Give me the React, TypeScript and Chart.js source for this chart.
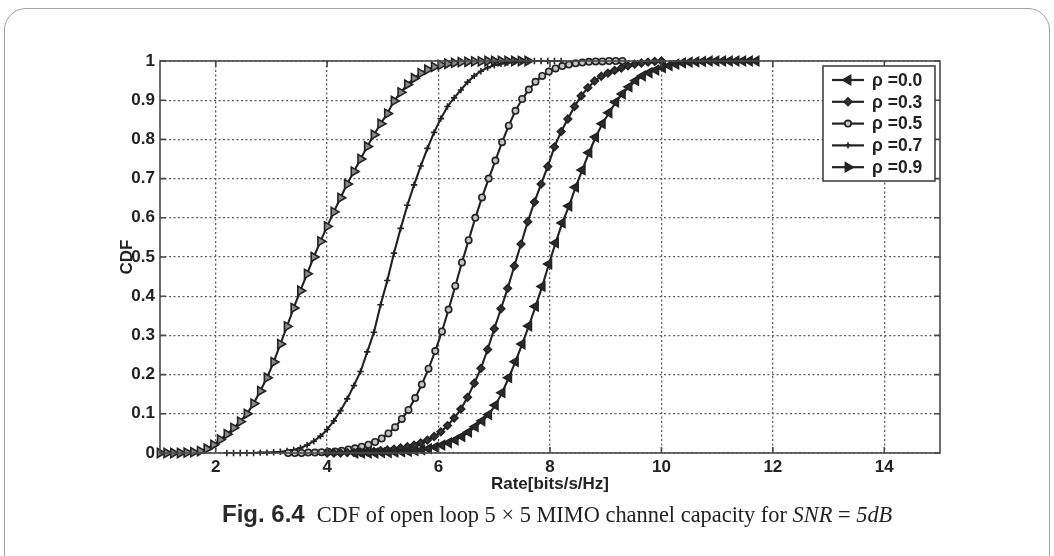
import React, { useEffect, useRef } from "react";
import { Chart, registerables, PointElement } from "chart.js";

Chart.register(...registerables);

// ---------------- data ----------------
const seriesLabels = ["ρ =0.0", "ρ =0.3", "ρ =0.5", "ρ =0.7", "ρ =0.9"];
const xTickValues = [2, 4, 6, 8, 10, 12, 14];
const xAxisTitle = "Rate[bits/s/Hz]";
const yAxisTitle = "CDF";

const rho00X = [4.5, 4.62, 4.74, 4.86, 4.98, 5.1, 5.22, 5.34, 5.46, 5.58, 5.7, 5.82, 5.94, 6.06, 6.18, 6.3, 6.42, 6.54, 6.66, 6.78, 6.9, 7.02, 7.14, 7.26, 7.38, 7.5, 7.62, 7.74, 7.86, 7.98, 8.1, 8.22, 8.34, 8.46, 8.58, 8.7, 8.82, 8.94, 9.06, 9.18, 9.3, 9.42, 9.54, 9.66, 9.78, 9.9, 10.02, 10.14, 10.26, 10.38, 10.5, 10.62, 10.74, 10.86, 10.98, 11.1, 11.22, 11.34, 11.46, 11.58, 11.7];
const rho00Y = [0, 0, 0, 0, 0.001, 0.001, 0.002, 0.003, 0.004, 0.006, 0.008, 0.011, 0.015, 0.02, 0.026, 0.033, 0.042, 0.053, 0.067, 0.082, 0.098, 0.122, 0.154, 0.192, 0.233, 0.278, 0.324, 0.374, 0.425, 0.482, 0.536, 0.587, 0.63, 0.678, 0.722, 0.766, 0.806, 0.84, 0.868, 0.895, 0.916, 0.934, 0.95, 0.962, 0.97, 0.977, 0.983, 0.988, 0.992, 0.995, 0.997, 0.998, 0.999, 1, 1, 1, 1, 1, 1, 1, 1];

const rho03X = [4.0, 4.12, 4.24, 4.36, 4.48, 4.6, 4.72, 4.84, 4.96, 5.08, 5.2, 5.32, 5.44, 5.56, 5.68, 5.8, 5.92, 6.04, 6.16, 6.28, 6.4, 6.52, 6.64, 6.76, 6.88, 7.0, 7.12, 7.24, 7.36, 7.48, 7.6, 7.72, 7.84, 7.96, 8.08, 8.2, 8.32, 8.44, 8.56, 8.68, 8.8, 8.92, 9.04, 9.16, 9.28, 9.4, 9.52, 9.64, 9.76, 9.88, 10.0];
const rho03Y = [0, 0, 0, 0.001, 0.001, 0.002, 0.003, 0.004, 0.006, 0.008, 0.01, 0.013, 0.016, 0.02, 0.026, 0.033, 0.042, 0.054, 0.07, 0.089, 0.112, 0.142, 0.178, 0.216, 0.264, 0.317, 0.368, 0.42, 0.477, 0.533, 0.59, 0.64, 0.686, 0.731, 0.781, 0.82, 0.852, 0.884, 0.911, 0.932, 0.949, 0.961, 0.969, 0.976, 0.982, 0.988, 0.992, 0.995, 0.997, 0.999, 1];

const rho05X = [3.3, 3.42, 3.54, 3.66, 3.78, 3.9, 4.02, 4.14, 4.26, 4.38, 4.5, 4.62, 4.74, 4.86, 4.98, 5.1, 5.22, 5.34, 5.46, 5.58, 5.7, 5.82, 5.94, 6.06, 6.18, 6.3, 6.42, 6.54, 6.66, 6.78, 6.9, 7.02, 7.14, 7.26, 7.38, 7.5, 7.62, 7.74, 7.86, 7.98, 8.1, 8.22, 8.34, 8.46, 8.58, 8.7, 8.82, 8.94, 9.06, 9.18, 9.3];
const rho05Y = [0, 0, 0, 0.001, 0.001, 0.002, 0.003, 0.004, 0.006, 0.009, 0.012, 0.016, 0.021, 0.028, 0.037, 0.05, 0.066, 0.087, 0.11, 0.14, 0.175, 0.215, 0.26, 0.31, 0.366, 0.426, 0.486, 0.543, 0.6, 0.652, 0.7, 0.746, 0.793, 0.835, 0.873, 0.903, 0.927, 0.947, 0.962, 0.973, 0.981, 0.987, 0.991, 0.994, 0.996, 0.998, 0.999, 0.999, 1, 1, 1];

const rho07X = [2.2, 2.32, 2.44, 2.56, 2.68, 2.8, 2.92, 3.04, 3.16, 3.28, 3.4, 3.52, 3.64, 3.76, 3.88, 4.0, 4.12, 4.24, 4.36, 4.48, 4.6, 4.72, 4.84, 4.96, 5.08, 5.2, 5.32, 5.44, 5.56, 5.68, 5.8, 5.92, 6.04, 6.16, 6.28, 6.4, 6.52, 6.64, 6.76, 6.88, 7.0, 7.12, 7.24, 7.36, 7.48, 7.6, 7.72, 7.84, 7.96, 8.08, 8.2];
const rho07Y = [0, 0, 0, 0, 0, 0.001, 0.001, 0.002, 0.003, 0.005, 0.008, 0.013, 0.02, 0.03, 0.043, 0.06, 0.082, 0.108, 0.138, 0.172, 0.208, 0.258, 0.308, 0.378, 0.44, 0.51, 0.573, 0.632, 0.684, 0.732, 0.777, 0.818, 0.853, 0.884, 0.906, 0.926, 0.946, 0.962, 0.974, 0.983, 0.989, 0.993, 0.996, 0.998, 0.999, 0.999, 1, 1, 1, 1, 1];

const rho09X = [1.0, 1.12, 1.24, 1.36, 1.48, 1.6, 1.72, 1.84, 1.96, 2.08, 2.2, 2.32, 2.44, 2.56, 2.68, 2.8, 2.92, 3.04, 3.16, 3.28, 3.4, 3.52, 3.64, 3.76, 3.88, 4.0, 4.12, 4.24, 4.36, 4.48, 4.6, 4.72, 4.84, 4.96, 5.08, 5.2, 5.32, 5.44, 5.56, 5.68, 5.8, 5.92, 6.04, 6.16, 6.28, 6.4, 6.52, 6.64, 6.76, 6.88, 7.0, 7.12, 7.24, 7.36, 7.48, 7.6];
const rho09Y = [0, 0, 0, 0, 0.001, 0.002, 0.005, 0.011, 0.021, 0.034, 0.048, 0.064, 0.08, 0.1, 0.126, 0.158, 0.192, 0.232, 0.278, 0.323, 0.37, 0.414, 0.457, 0.5, 0.54, 0.578, 0.615, 0.651, 0.686, 0.718, 0.75, 0.782, 0.812, 0.84, 0.866, 0.898, 0.92, 0.94, 0.956, 0.969, 0.978, 0.985, 0.99, 0.993, 0.995, 0.997, 0.998, 0.999, 0.999, 1, 1, 1, 1, 1, 1, 1];

// ---------------- styles ----------------
const INK = "#222222";
const FONT = '"Liberation Sans", Arial, Helvetica, sans-serif';
const markerStyles = [
  { pointStyle: "triangle", rotation: -90, radius: 5.2, fill: "#2a2a2a" },
  { pointStyle: "rectRot", rotation: 0, radius: 3.8, fill: "#333333" },
  { pointStyle: "circle", rotation: 0, radius: 3.2, fill: "#c4c4c4" },
  { pointStyle: "cross", rotation: 0, radius: 3.2, fill: "#2a2a2a" },
  { pointStyle: "triangle", rotation: 90, radius: 5.2, fill: "#8a8a8a" },
];

const framePlugin = {
  id: "matlabFrame",
  afterDatasetsDraw(chart: any) {
    const { ctx, chartArea: a, scales } = chart;
    ctx.save();
    ctx.strokeStyle = "#4a4a4a";
    ctx.lineWidth = 1.6;
    ctx.setLineDash([]);
    ctx.strokeRect(a.left, a.top, a.right - a.left, a.bottom - a.top);
    ctx.beginPath();
    for (const v of xTickValues) {
      const px = scales.x.getPixelForValue(v);
      ctx.moveTo(px, a.bottom);
      ctx.lineTo(px, a.bottom - 6);
      ctx.moveTo(px, a.top);
      ctx.lineTo(px, a.top + 6);
    }
    for (const t of scales.y.ticks) {
      const py = scales.y.getPixelForValue(t.value);
      ctx.moveTo(a.left, py);
      ctx.lineTo(a.left + 6, py);
      ctx.moveTo(a.right, py);
      ctx.lineTo(a.right - 6, py);
    }
    ctx.stroke();
    ctx.restore();
  },
};

const legendPlugin = {
  id: "matlabLegend",
  afterDraw(chart: any) {
    const { ctx, chartArea: a } = chart;
    const w = 112;
    const h = 115;
    const left = a.right - 5 - w;
    const top = a.top + 5;
    ctx.save();
    ctx.fillStyle = "#ffffff";
    ctx.fillRect(left, top, w, h);
    ctx.strokeStyle = "#444";
    ctx.lineWidth = 1.6;
    ctx.strokeRect(left, top, w, h);
    chart.data.datasets.forEach((ds: any, i: number) => {
      const cy = top + 14 + i * 21.8;
      ctx.strokeStyle = INK;
      ctx.lineWidth = 2.2;
      ctx.beginPath();
      ctx.moveTo(left + 9, cy);
      ctx.lineTo(left + 41, cy);
      ctx.stroke();
      const el: any = new PointElement({});
      el.x = left + 25;
      el.y = cy;
      el.options = {
        pointStyle: ds.pointStyle,
        rotation: ds.pointRotation,
        radius: ds.pointRadius,
        borderWidth: ds.pointBorderWidth,
        borderColor: INK,
        backgroundColor: ds.pointStyle === "triangle" ? INK : ds.pointBackgroundColor,
      };
      el.draw(ctx);
      ctx.fillStyle = INK;
      ctx.font = `bold 17.5px ${FONT}`;
      ctx.textAlign = "left";
      ctx.textBaseline = "middle";
      ctx.fillText(ds.label, left + 49, cy + 1);
    });
    ctx.restore();
  },
};

export default function App() {
  const ref = useRef<HTMLCanvasElement>(null);

  useEffect(() => {
    const canvas = ref.current;
    if (!canvas) return;
    const xs = [rho00X, rho03X, rho05X, rho07X, rho09X];
    const ys = [rho00Y, rho03Y, rho05Y, rho07Y, rho09Y];
    const datasets = seriesLabels.map((label, i) => {
      const st = markerStyles[i];
      return {
        label,
        data: xs[i].map((x, j) => ({ x, y: ys[i][j] })),
        borderColor: INK,
        borderWidth: 2.1,
        backgroundColor: st.fill,
        pointStyle: st.pointStyle,
        pointRotation: st.rotation,
        pointRadius: st.radius,
        pointBorderWidth: 1.6,
        pointBorderColor: INK,
        pointBackgroundColor: st.fill,
        tension: 0,
        clip: false,
      };
    });

    const chart = new Chart(canvas, {
      type: "line",
      data: { datasets },
      options: {
        animation: false,
        responsive: false,
        maintainAspectRatio: false,
        events: [],
        layout: { padding: { left: 114, right: 114, top: 61, bottom: 58 } },
        plugins: { legend: { display: false }, tooltip: { enabled: false } },
        font: { family: FONT },
        scales: {
          x: {
            type: "linear",
            min: 1,
            max: 15,
            afterBuildTicks: (scale: any) => {
              scale.ticks = xTickValues.map((v) => ({ value: v }));
            },
            afterFit: (scale: any) => {
              scale.height = 45;
            },
            ticks: {
              color: INK,
              padding: 4,
              font: { family: FONT, size: 17, weight: "bold" },
              callback: (v: any) => String(v),
              maxRotation: 0,
            },
            grid: { color: "#5e5e5e", lineWidth: 1.3, drawTicks: false },
            border: { display: false, dash: [2, 2.5] },
            title: {
              display: true,
              text: xAxisTitle,
              color: INK,
              font: { family: FONT, size: 17, weight: "bold" },
              padding: { top: 4, bottom: 3 },
            },
          },
          y: {
            type: "linear",
            min: 0,
            max: 1,
            afterFit: (scale: any) => {
              scale.width = 46;
            },
            ticks: {
              stepSize: 0.1,
              color: INK,
              padding: 5,
              font: { family: FONT, size: 17, weight: "bold" },
              callback: (v: any) => String(Math.round(Number(v) * 10) / 10),
            },
            grid: { color: "#5e5e5e", lineWidth: 1.3, drawTicks: false },
            border: { display: false, dash: [2, 2.5] },
            title: {
              display: true,
              text: yAxisTitle,
              color: INK,
              font: { family: FONT, size: 17, weight: "bold" },
              padding: { top: 3, bottom: 4 },
            },
          },
        },
      } as any,
      plugins: [framePlugin, legendPlugin],
    });
    return () => chart.destroy();
  }, []);

  return (
    <div
      style={{
        position: "absolute",
        left: 0,
        top: 0,
        width: 1054,
        height: 556,
        overflow: "hidden",
        background: "#ffffff",
      }}
    >
      <div
        style={{
          position: "absolute",
          left: 4,
          top: 8,
          width: 1044,
          height: 620,
          border: "1.5px solid #a0a0a0",
          borderRadius: 22,
        }}
      />
      <canvas
        ref={ref}
        width={1054}
        height={556}
        style={{ position: "absolute", left: 0, top: 0, width: 1054, height: 556 }}
      />
      <div
        style={{
          position: "absolute",
          left: 222,
          top: 499,
          whiteSpace: "nowrap",
          fontFamily: '"Liberation Serif", "Times New Roman", serif',
          fontSize: 22.4,
          color: "#222",
          lineHeight: "30px",
        }}
      >
        <span
          style={{
            fontFamily: '"Liberation Sans Narrow", "Liberation Sans", Arial, sans-serif',
            fontWeight: "bold",
            fontSize: 24,
            marginRight: 12,
            color: "#2a2a2a",
          }}
        >
          Fig. 6.4
        </span>
        CDF of open loop 5 × 5 MIMO channel capacity for <i>SNR</i> = <i>5dB</i>
      </div>
    </div>
  );
}
